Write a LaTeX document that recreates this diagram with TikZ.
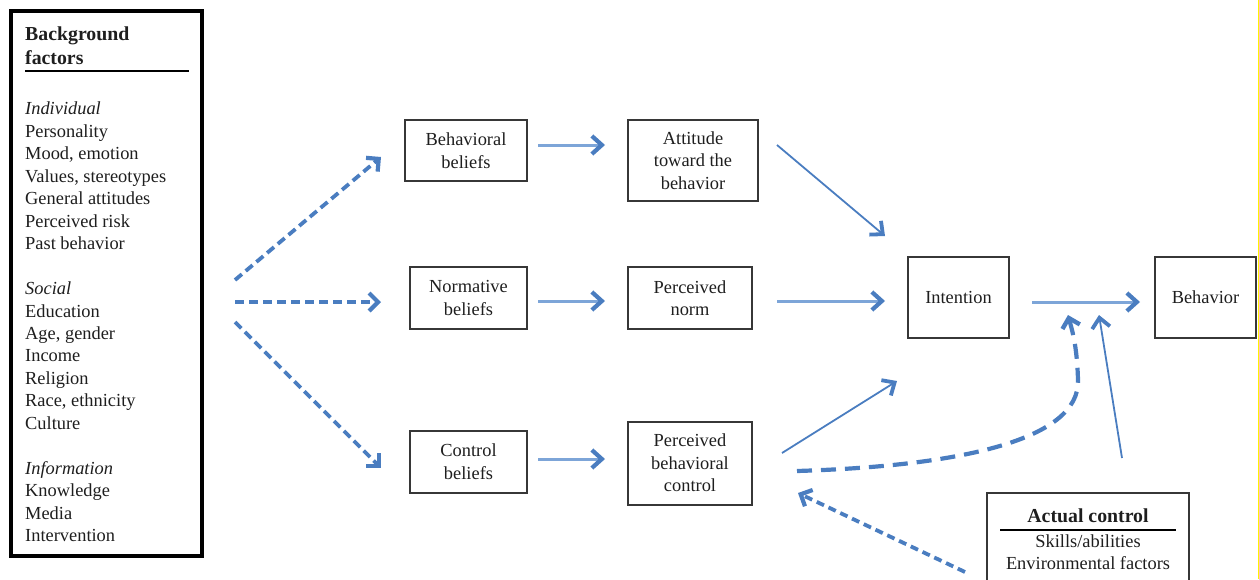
\documentclass[tikz,border=0pt]{standalone}
\usepackage{fontspec}
\setmainfont{Liberation Serif}
\usetikzlibrary{arrows.meta}
\definecolor{dblue}{RGB}{74,125,192}
\definecolor{lblue}{RGB}{125,165,216}
\definecolor{boxgray}{RGB}{55,55,55}
\definecolor{txt}{RGB}{30,30,30}
\newcommand\diagfont{\fontsize{18.4}{22.45}\selectfont}
\newcommand\diagbold{\fontsize{19.8}{24}\selectfont\bfseries}
\begin{document}
\begin{tikzpicture}[x=1pt,y=-1pt,
  every node/.style={text=txt},
  flowbox/.style={draw=boxgray, line width=2pt, align=center, inner sep=0pt, font=\diagfont},
  dasharrow/.style={draw=dblue, line width=3.8pt, dash pattern=on 9pt off 5pt,
    -{Straight Barb[length=9pt,width=18pt,line width=4.2pt]}},
  solidarrow/.style={draw=lblue, line width=3pt,
    -{Straight Barb[length=10pt,width=18pt,line width=4.2pt,color=dblue]}},
  thinarrow/.style={draw=dblue, line width=1.8pt,
    -{Straight Barb[length=10pt,width=18pt,line width=3.8pt]}},
  curvearrow/.style={draw=dblue, line width=4.2pt, dash pattern=on 15pt off 9pt,
    -{Straight Barb[length=9pt,width=18pt,line width=4.4pt]}},
  backarrow/.style={draw=dblue, line width=3.8pt, dash pattern=on 8pt off 5pt,
    -{Straight Barb[length=9pt,width=18pt,line width=4.2pt]}}
]
\useasboundingbox (0,0) rectangle (1259,579);
\clip (0,0) rectangle (1259,579);

% background factors box
\node[draw=black, line width=3.6pt, minimum width=191pt, minimum height=545pt, inner sep=0pt] (bg) at (106.5,283.5) {};
\node[anchor=north west, inner sep=0pt, align=left, font=\diagbold] (bgtitle) at (25,26.5) {Background\\factors};
\draw[black, line width=1.5pt] (25,71) -- (189,71);
\node[anchor=north west, inner sep=0pt, align=left, font=\diagfont] (bglist) at (25,102) {%
\textit{Individual}\\
Personality\\
Mood, emotion\\
Values, stereotypes\\
General attitudes\\
Perceived risk\\
Past behavior\\
\mbox{}\\
\textit{Social}\\
Education\\
Age, gender\\
Income\\
Religion\\
Race, ethnicity\\
Culture\\
\mbox{}\\
\textit{Information}\\
Knowledge\\
Media\\
Intervention};

% main boxes
\node[flowbox, minimum width=122pt, minimum height=61pt] (bb)  at (466,150.5) {Behavioral\\beliefs};
\node[flowbox, minimum width=130pt, minimum height=81pt] (att) at (693,160.5) {Attitude\\toward the\\behavior};
\node[flowbox, minimum width=117pt, minimum height=62pt] (nb)  at (468.5,298) {Normative\\beliefs};
\node[flowbox, minimum width=124pt, minimum height=62pt] (pn)  at (690,298) {Perceived\\norm};
\node[flowbox, minimum width=117pt, minimum height=62pt] (cb)  at (468.5,461.5) {Control\\beliefs};
\node[flowbox, minimum width=124pt, minimum height=83pt] (pbc) at (690,463) {Perceived\\behavioral\\control};
\node[flowbox, minimum width=101pt, minimum height=81pt] (int) at (958.5,297.5) {Intention};
\node[flowbox, minimum width=101pt, minimum height=81pt] (beh) at (1205.5,297.5) {Behavior};

% actual control box
\node[draw=boxgray, line width=2pt, minimum width=202pt, minimum height=130pt, inner sep=0pt] (ac) at (1088,558) {};
\node[anchor=base, inner sep=0pt, font=\diagbold] (actitle) at (1088,522) {Actual control};
\draw[black, line width=1.5pt] (1000,530) -- (1176,530);
\node[anchor=base, inner sep=0pt, font=\diagfont] (ac1) at (1088,547) {Skills/abilities};
\node[anchor=base, inner sep=0pt, font=\diagfont] (ac2) at (1088,569.5) {Environmental factors};

% connector end points
\coordinate (d1s) at (235,280);   \coordinate (d1e) at (381,157);
\coordinate (d2s) at (235,302);   \coordinate (d2e) at (381,302);
\coordinate (d3s) at (235,322);   \coordinate (d3e) at (381,468);
\coordinate (s1s) at (538,145);   \coordinate (s1e) at (605,145);
\coordinate (s2s) at (538,301);   \coordinate (s2e) at (605,301);
\coordinate (s3s) at (538,459);   \coordinate (s3e) at (605,459);
\coordinate (a1s) at (777,145);   \coordinate (a1e) at (885,236);
\coordinate (a2s) at (777,301);   \coordinate (a2e) at (885,301);
\coordinate (a3s) at (782,453);   \coordinate (a3e) at (897,381);
\coordinate (a4s) at (1032,302);  \coordinate (a4e) at (1140,302);
\coordinate (cvs) at (797,471);   \coordinate (cvm) at (1078,380); \coordinate (cve) at (1068,315);
\coordinate (tns) at (1122,458);  \coordinate (tne) at (1099,315);
\coordinate (bks) at (965,572);   \coordinate (bke) at (798,493);

\draw[dasharrow] (d1s) -- (d1e);
\draw[dasharrow] (d2s) -- (d2e);
\draw[dasharrow] (d3s) -- (d3e);
\draw[solidarrow] (s1s) -- (s1e);
\draw[solidarrow] (s2s) -- (s2e);
\draw[solidarrow] (s3s) -- (s3e);
\draw[thinarrow] (a1s) -- (a1e);
\draw[solidarrow] (a2s) -- (a2e);
\draw[thinarrow] (a3s) -- (a3e);
\draw[solidarrow] (a4s) -- (a4e);
\draw[curvearrow] (cvs) .. controls (960,466) and (1080,440) .. (cvm) .. controls (1077,345) and (1072,330) .. (cve);
\draw[thinarrow] (tns) -- (tne);
\draw[backarrow] (bks) -- (bke);

\draw[yellow, line width=1.5pt] (1258.3,0) -- (1258.3,579);
\end{tikzpicture}
\end{document}
